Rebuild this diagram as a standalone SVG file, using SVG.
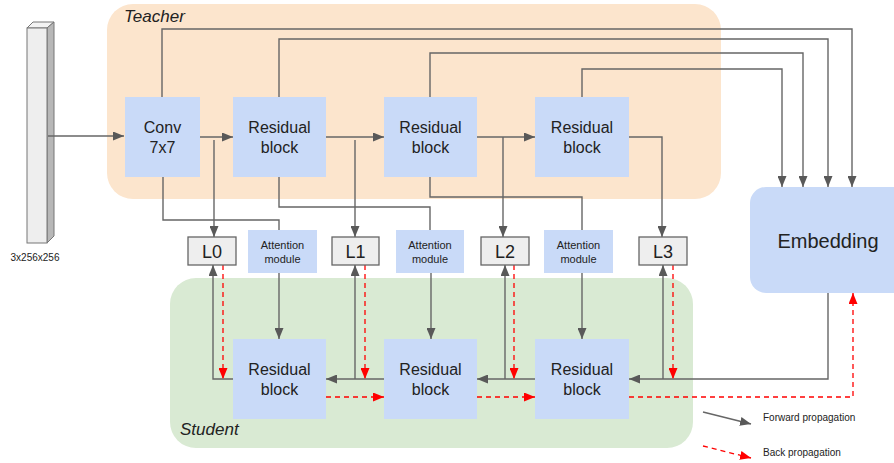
<svg xmlns="http://www.w3.org/2000/svg" width="894" height="463" viewBox="0 0 894 463">
<style>
text{font-family:"Liberation Sans",Arial,sans-serif;fill:#222;}
.blk{fill:#c9daf8;}
.lbox{fill:#eeeeee;stroke:#666;stroke-width:1.3;}
.t16{font-size:16px;text-anchor:middle;}
.t18{font-size:18px;text-anchor:middle;}
.t11{font-size:11px;text-anchor:middle;}
.ln{fill:none;stroke:#666;stroke-width:1.4;}
.fw{fill:none;stroke:#666;stroke-width:1.4;marker-end:url(#ag);}
.bk{fill:none;stroke:#ff0000;stroke-width:1.3;stroke-dasharray:5,4;marker-end:url(#ar);}
</style>
<defs>
<marker id="ag" markerUnits="userSpaceOnUse" markerWidth="11" markerHeight="9" refX="11" refY="4.5" orient="auto"><path d="M0,0 L11,4.5 L0,9 z" fill="#595959"/></marker>
<marker id="ar" markerUnits="userSpaceOnUse" markerWidth="11" markerHeight="9" refX="11" refY="4.5" orient="auto"><path d="M0,0 L11,4.5 L0,9 z" fill="#ff0000"/></marker>
</defs>
<rect width="894" height="463" fill="#ffffff"/>
<g id="teacher-region">
<rect x="107" y="4" width="614" height="195" rx="26" fill="#fce5cd"/>
<text x="124" y="22" font-size="17" font-style="italic">Teacher</text>
</g>
<g id="student-region">
<rect x="170" y="278" width="523" height="170" rx="26" fill="#d9ead3"/>
<text x="180" y="435" font-size="17" font-style="italic">Student</text>
</g>
<g id="input">
<polygon points="27,28 33,22 54,22 47,28" fill="#f3f3f3" stroke="#777" stroke-width="1"/>
<polygon points="47,28 54,22 54,236 47,243" fill="#b7b7b7" stroke="#777" stroke-width="1"/>
<rect x="27" y="28" width="20" height="215" fill="#eeeeee" stroke="#777" stroke-width="1"/>
<text x="35" y="261" font-size="10" text-anchor="middle" fill="#333">3x256x256</text>
</g>
<g id="connectors">
<path class="fw" d="M48,136 L124,136"/>
<path class="fw" d="M200,137 L233,137"/>
<path class="fw" d="M326,137 L384,137"/>
<path class="fw" d="M477,137 L535,137"/>
<path class="fw" d="M214,140 L214,237"/>
<path class="fw" d="M355,140 L355,237"/>
<path class="fw" d="M503,137 L503,237"/>
<path class="fw" d="M629,137 L662,137 L662,237"/>
<path class="fw" d="M162,97 L162,29 L852,29 L852,187"/>
<path class="fw" d="M279,97 L279,39 L828,39 L828,187"/>
<path class="fw" d="M430,97 L430,53 L803,53 L803,187"/>
<path class="fw" d="M582,97 L582,69 L782,69 L782,187"/>
<path class="ln" d="M163,177 L163,220 L279,220 L279,230"/>
<path class="ln" d="M279,177 L279,207 L430,207 L430,230"/>
<path class="ln" d="M430,177 L430,197 L582,197 L582,230"/>
<path class="fw" d="M279,273 L279,339"/>
<path class="fw" d="M431,273 L431,339"/>
<path class="fw" d="M582,273 L582,339"/>
<path class="fw" d="M828,293 L828,379 L629,379"/>
<path class="fw" d="M663,379 L663,265"/>
<path class="fw" d="M535,379 L477,379"/>
<path class="fw" d="M505,379 L505,265"/>
<path class="fw" d="M384,379 L326,379"/>
<path class="fw" d="M355,379 L355,265"/>
<path class="fw" d="M233,379 L213,379 L213,265"/>
<path class="bk" d="M223,265 L223,379"/>
<path class="bk" d="M365,265 L365,379"/>
<path class="bk" d="M514,265 L514,379"/>
<path class="bk" d="M673,265 L673,379"/>
<path class="bk" d="M326,397 L384,397"/>
<path class="bk" d="M477,397 L535,397"/>
<path class="bk" d="M629,397 L853,397 L853,293"/>
</g>
<g id="conv">
<rect class="blk" x="125" y="97" width="75" height="80"/>
<text class="t16" x="162.5" y="133">Conv</text>
<text class="t16" x="162.5" y="153">7x7</text>
</g>
<g id="teacher-res1">
<rect class="blk" x="233" y="97" width="93" height="80"/>
<text class="t16" x="279.5" y="133">Residual</text>
<text class="t16" x="279.5" y="153">block</text>
</g>
<g id="teacher-res2">
<rect class="blk" x="384" y="97" width="93" height="80"/>
<text class="t16" x="430.5" y="133">Residual</text>
<text class="t16" x="430.5" y="153">block</text>
</g>
<g id="teacher-res3">
<rect class="blk" x="535" y="97" width="94" height="80"/>
<text class="t16" x="582" y="133">Residual</text>
<text class="t16" x="582" y="153">block</text>
</g>
<g id="student-res1">
<rect class="blk" x="233" y="339" width="93" height="80"/>
<text class="t16" x="279.5" y="375">Residual</text>
<text class="t16" x="279.5" y="395">block</text>
</g>
<g id="student-res2">
<rect class="blk" x="384" y="339" width="93" height="80"/>
<text class="t16" x="430.5" y="375">Residual</text>
<text class="t16" x="430.5" y="395">block</text>
</g>
<g id="student-res3">
<rect class="blk" x="535" y="339" width="94" height="80"/>
<text class="t16" x="582" y="375">Residual</text>
<text class="t16" x="582" y="395">block</text>
</g>
<g id="L0"><rect class="lbox" x="188" y="237" width="48" height="28"/><text class="t18" x="212" y="258">L0</text></g>
<g id="L1"><rect class="lbox" x="332" y="237" width="47" height="28"/><text class="t18" x="355.5" y="258">L1</text></g>
<g id="L2"><rect class="lbox" x="481" y="237" width="48" height="28"/><text class="t18" x="505" y="258">L2</text></g>
<g id="L3"><rect class="lbox" x="639" y="237" width="48" height="28"/><text class="t18" x="663" y="258">L3</text></g>
<g id="attention1"><rect class="blk" x="248" y="230" width="69" height="43"/><text class="t11" x="282.5" y="249">Attention</text><text class="t11" x="282.5" y="263">module</text></g>
<g id="attention2"><rect class="blk" x="396" y="230" width="68" height="43"/><text class="t11" x="430" y="249">Attention</text><text class="t11" x="430" y="263">module</text></g>
<g id="attention3"><rect class="blk" x="544" y="230" width="69" height="43"/><text class="t11" x="578.5" y="249">Attention</text><text class="t11" x="578.5" y="263">module</text></g>
<g id="embedding">
<rect class="blk" x="750" y="187" width="170" height="106" rx="16"/>
<text x="828" y="248" font-size="20" text-anchor="middle">Embedding</text>
</g>
<g id="legend">
<path class="fw" d="M703,412 L751,424"/>
<text x="763" y="421" font-size="10" fill="#333">Forward propagation</text>
<path class="bk" d="M703,446 L751,458"/>
<text x="763" y="456" font-size="10" fill="#333">Back propagation</text>
</g>
</svg>
